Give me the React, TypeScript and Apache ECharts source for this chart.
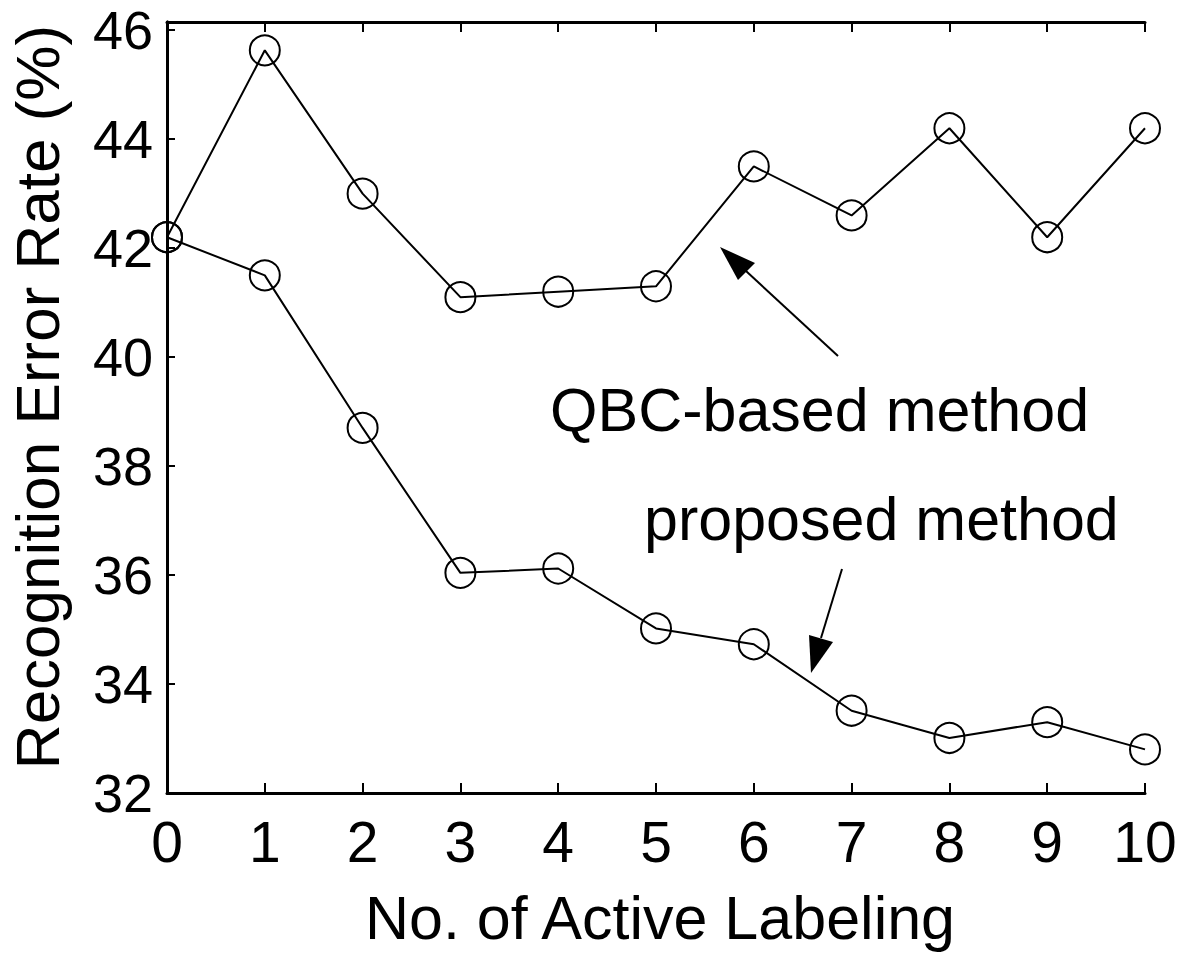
import React, { useEffect, useRef } from "react";
import * as echarts from "echarts";

const labelingRounds = [0, 1, 2, 3, 4, 5, 6, 7, 8, 9, 10];
const qbcErrorRate = [42.2, 45.63, 43.0, 41.1, 41.2, 41.3, 43.5, 42.6, 44.2, 42.2, 44.2];
const proposedErrorRate = [42.2, 41.5, 38.7, 36.04, 36.12, 35.02, 34.73, 33.51, 33.01, 33.3, 32.8];

const yMin = 32;
const yMax = 46.15;
const yStep = 2;

const xTitle = "No. of Active Labeling";
const yTitle = "Recognition Error Rate (%)";
const qbcLabel = "QBC-based method";
const proposedLabel = "proposed method";

const FONT = "'Liberation Sans', Arial, Helvetica, sans-serif";

export default function App() {
  const ref = useRef<HTMLDivElement>(null);

  useEffect(() => {
    if (!ref.current) return;
    const chart = echarts.init(ref.current, undefined, { renderer: "svg" });

    const lineSeries = (name: string, values: number[]) => ({
      name,
      type: "line",
      data: labelingRounds.map((x, i) => [x, values[i]]),
      symbol: "circle",
      symbolSize: 30,
      clip: false,
      lineStyle: { color: "#000", width: 2 },
      itemStyle: { color: "rgba(0,0,0,0)", borderColor: "#000", borderWidth: 2 },
      emphasis: { disabled: true },
      z: 3,
    });

    const axisLineStyle = { show: true, lineStyle: { color: "#000", width: 3 } };
    const integerOnly = (v: number) => (Math.abs(v - Math.round(v)) < 1e-6 ? String(Math.round(v)) : "");

    chart.setOption({
      animation: false,
      backgroundColor: "#fff",
      textStyle: { fontFamily: FONT },
      grid: { left: 167, right: 39, top: 22, bottom: 160, containLabel: false },
      xAxis: [
        {
          type: "value",
          min: 0,
          max: 10,
          interval: 1,
          position: "bottom",
          axisLine: axisLineStyle,
          axisTick: { show: true, inside: true, length: 10, lineStyle: { color: "#000", width: 2 } },
          axisLabel: { show: true, fontSize: 57, color: "#000", margin: 20, fontFamily: FONT },
          splitLine: { show: false },
        },
        {
          type: "value",
          min: 0,
          max: 10,
          interval: 1,
          position: "top",
          axisLine: axisLineStyle,
          axisTick: { show: true, inside: true, length: 10, lineStyle: { color: "#000", width: 2 } },
          axisLabel: { show: false },
          splitLine: { show: false },
        },
      ],
      yAxis: [
        {
          type: "value",
          min: yMin,
          max: yMax,
          interval: yStep,
          position: "left",
          axisLine: axisLineStyle,
          axisTick: { show: true, inside: true, length: 8, lineStyle: { color: "#000", width: 2 } },
          axisLabel: {
            show: true,
            fontSize: 54,
            lineHeight: 44,
            color: "#000",
            margin: 14,
            fontFamily: FONT,
            formatter: integerOnly,
          },
          splitLine: { show: false },
        },
        {
          type: "value",
          min: yMin,
          max: yMax,
          interval: yStep,
          position: "right",
          axisLine: axisLineStyle,
          axisTick: { show: false },
          axisLabel: { show: false },
          splitLine: { show: false },
        },
      ],
      series: [lineSeries("QBC-based method", qbcErrorRate), lineSeries("proposed method", proposedErrorRate)],
      graphic: [
        {
          type: "text",
          x: 37,
          y: 397,
          rotation: Math.PI / 2,
          style: {
            text: yTitle,
            fontSize: 62,
            fontFamily: FONT,
            fill: "#000",
            align: "center",
            verticalAlign: "middle",
          },
        },
        {
          type: "text",
          x: 660,
          y: 918,
          style: {
            text: xTitle,
            fontSize: 61,
            fontFamily: FONT,
            fill: "#000",
            align: "center",
            verticalAlign: "middle",
          },
        },
        {
          type: "text",
          x: 550,
          y: 410,
          style: {
            text: qbcLabel,
            fontSize: 61,
            fontFamily: FONT,
            fill: "#000",
            align: "left",
            verticalAlign: "middle",
          },
        },
        {
          type: "text",
          x: 644,
          y: 519,
          style: {
            text: proposedLabel,
            fontSize: 61,
            fontFamily: FONT,
            fill: "#000",
            align: "left",
            verticalAlign: "middle",
          },
        },
        {
          type: "line",
          shape: { x1: 838, y1: 356, x2: 746, y2: 271 },
          style: { stroke: "#000", lineWidth: 2 },
        },
        {
          type: "polygon",
          shape: { points: [[720, 247], [755, 263], [738, 280]] },
          style: { fill: "#000" },
        },
        {
          type: "line",
          shape: { x1: 842, y1: 569, x2: 821, y2: 638 },
          style: { stroke: "#000", lineWidth: 2 },
        },
        {
          type: "polygon",
          shape: { points: [[811, 673], [809, 635], [833, 642]] },
          style: { fill: "#000" },
        },
      ],
    });

    return () => chart.dispose();
  }, []);

  return (
    <div
      ref={ref}
      style={{ position: "fixed", left: 0, top: 0, width: 1184, height: 953, background: "#fff" }}
    />
  );
}
